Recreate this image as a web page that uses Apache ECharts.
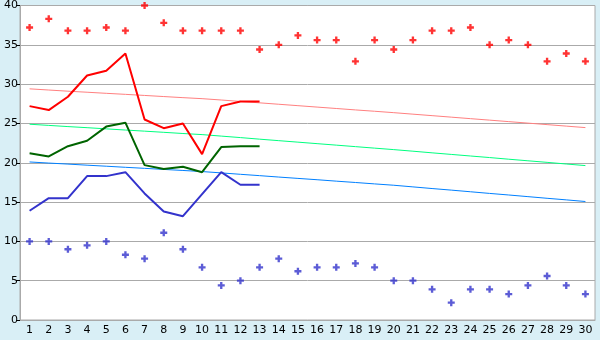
<!DOCTYPE html>
<html>
<head>
<meta charset="utf-8">
<script src="https://cdn.jsdelivr.net/npm/echarts@6/dist/echarts.min.js"></script>
<style>
html,body{margin:0;padding:0;background:#d9eff6;}
#c{width:600px;height:340px;}
</style>
</head>
<body>
<div id="c"></div>
<script>
const days = ['1','2','3','4','5','6','7','8','9','10','11','12','13','14','15','16','17','18','19','20','21','22','23','24','25','26','27','28','29','30'];
const recordMax = [37.2,38.3,36.8,36.8,37.2,36.8,40.0,37.8,36.8,36.8,36.8,36.8,34.4,35.0,36.2,35.6,35.6,32.9,35.6,34.4,35.6,36.8,36.8,37.2,35.0,35.6,35.0,32.9,33.9,32.9];
const recordMin = [10.0,10.0,9.0,9.5,10.0,8.3,7.8,11.1,9.0,6.7,4.4,5.0,6.7,7.8,6.2,6.7,6.7,7.2,6.7,5.0,5.0,3.9,2.2,3.9,3.9,3.3,4.4,5.6,4.4,3.3];
const dailyMax = [27.2,26.7,28.4,31.1,31.7,33.9,25.5,24.4,25.0,21.1,27.2,27.8,27.8];
const dailyMean = [21.2,20.8,22.1,22.8,24.6,25.1,19.7,19.2,19.5,18.8,22.0,22.1,22.1];
const dailyMin = [13.9,15.5,15.5,18.3,18.3,18.8,16.1,13.8,13.2,16.0,18.8,17.2,17.2];
const normalMax = [29.4,29.25,29.1,28.97,28.83,28.7,28.56,28.42,28.28,28.15,27.98,27.8,27.62,27.44,27.26,27.08,26.9,26.72,26.55,26.37,26.18,25.99,25.8,25.61,25.42,25.23,25.04,24.85,24.66,24.47];
const normalMean = [24.9,24.75,24.6,24.46,24.31,24.16,24.02,23.87,23.72,23.58,23.39,23.2,23.0,22.81,22.62,22.43,22.24,22.05,21.86,21.67,21.47,21.26,21.06,20.86,20.66,20.45,20.25,20.05,19.84,19.64];
const normalMin = [20.1,19.96,19.83,19.69,19.56,19.42,19.29,19.15,19.02,18.88,18.71,18.53,18.36,18.18,18.01,17.84,17.66,17.49,17.31,17.14,16.93,16.72,16.52,16.31,16.1,15.9,15.69,15.48,15.28,15.07];
const yTicks = {min:0, max:40, interval:5};

const chart = echarts.init(document.getElementById('c'), null, {renderer:'canvas'});
const font = {fontFamily:'DejaVu Sans', fontSize:11, color:'#000'};
const plus = 'path://M2,0 H4 V2 H6 V4 H4 V6 H2 V4 H0 V2 H2 Z';
function line(name, data, color, width){
  return {name, type:'line', data, symbol:'none', lineStyle:{color, width}, itemStyle:{color}, animation:false, z: width>1?4:3};
}
function pts(name, data, color){
  return {name, type:'scatter', data, symbol:plus, symbolSize:7, itemStyle:{color}, animation:false, z:5};
}
chart.setOption({
  backgroundColor:'#d9eff6',
  animation:false,
  grid:{left:20, right:5, top:5, bottom:20, show:true, backgroundColor:'#ffffff', borderColor:'#aaaaaa', borderWidth:1},
  xAxis:{type:'category', data:days, boundaryGap:true,
    axisLine:{lineStyle:{color:'#aaaaaa'}},
    axisTick:{alignWithLabel:true, length:5, lineStyle:{color:'#000'}},
    axisLabel:Object.assign({margin:5, interval:0}, font),
    splitLine:{show:false}},
  yAxis:{type:'value', min:yTicks.min, max:yTicks.max, interval:yTicks.interval,
    axisLine:{show:true, lineStyle:{color:'#aaaaaa'}},
    axisTick:{show:true, length:4, lineStyle:{color:'#000'}},
    axisLabel:Object.assign({margin:2}, font),
    splitLine:{lineStyle:{color:'#aaaaaa', width:1}}},
  series:[
    line('normalMax', normalMax, '#ff8080', 1),
    line('normalMean', normalMean, '#00ff80', 1),
    line('normalMin', normalMin, '#0080ff', 1),
    line('dailyMax', dailyMax, '#ff0000', 2),
    line('dailyMean', dailyMean, '#006400', 2),
    line('dailyMin', dailyMin, '#3333cc', 2),
    pts('recordMax', recordMax, '#ff0000'),
    pts('recordMin', recordMin, '#3333cc')
  ]
});
</script>
</body>
</html>
